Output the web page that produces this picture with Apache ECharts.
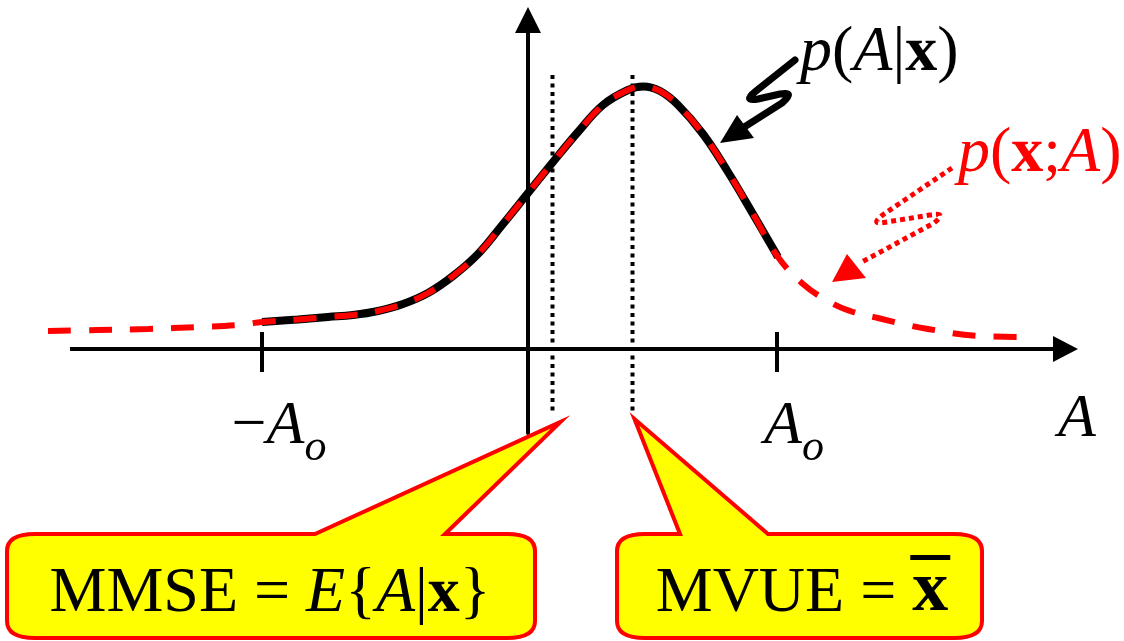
<!DOCTYPE html>
<html>
<head>
<meta charset="utf-8">
<script src="https://cdn.jsdelivr.net/npm/echarts@6/dist/echarts.min.js"></script>
<style>
  html, body { margin: 0; padding: 0; background: #fff; }
  #chart { width: 1124px; height: 641px; }
</style>
</head>
<body>
<div id="chart"></div>
<script>
// A axis (origin at the vertical axis); density height above the A axis
const curveX = [-4.8, -4.3, -3.8, -3.3, -2.9, -2.66, -2.3, -2.0, -1.75, -1.5, -1.25, -1.0, -0.75, -0.5, -0.25, 0, 0.25, 0.5, 0.75, 1.0, 1.15, 1.32, 1.5, 1.75, 2.0, 2.25, 2.5, 2.75, 3.0, 3.25, 3.5, 3.75, 4.0, 4.5, 5.0];
const curveY = [0.18, 0.19, 0.20, 0.22, 0.24, 0.27, 0.295, 0.32, 0.34, 0.38, 0.45, 0.56, 0.73, 0.95, 1.25, 1.56, 1.87, 2.17, 2.44, 2.59, 2.625, 2.58, 2.44, 2.15, 1.77, 1.35, 0.92, 0.65, 0.48, 0.37, 0.31, 0.25, 0.20, 0.13, 0.12];
const tickValues = [-2.66, 2.49]; // -Ao, Ao
const tickNames = ['\u2212A', 'A'];
const posteriorRange = [-2.66, 2.5]; // p(A|x) lives on [-Ao, Ao]
const mmse = 0.245;
const mvue = 1.045;
const estimatorTop = 2.74;
const estimatorBottom = -0.63;
const axisStart = -4.58;
const axisEnd = 5.5;

const X_MIN = -4.88, X_MAX = 5.52;
const Y_MIN = -0.84, Y_MAX = 3.29;

const serif = "'Liberation Serif', 'Times New Roman', serif";
const RED = '#ff0000';

const pairs = curveX.map((x, i) => [x, curveY[i]]);
const posterior = pairs.filter(p => p[0] >= posteriorRange[0] && p[0] <= posteriorRange[1]);

const chart = echarts.init(document.getElementById('chart'));

// text helpers: lay math out token by token on a baseline
const ctx = document.createElement('canvas').getContext('2d');
const fontOf = (kind, size) =>
  (kind === 'i' ? 'italic ' : kind === 'b' ? 'bold ' : '') + size + 'px ' + serif;
const widthOf = (tokens, size) => tokens.reduce((w, t) => {
  ctx.font = fontOf(t[1], t[2] || size);
  return w + ctx.measureText(t[0]).width;
}, 0);
const mathText = (tokens, x, baseline, size, color, align) => {
  let cx = align === 'center' ? x - widthOf(tokens, size) / 2 : x;
  const els = [];
  const boxes = [];
  tokens.forEach(t => {
    const s = t[2] || size;
    const font = fontOf(t[1], s);
    ctx.font = font;
    const w = ctx.measureText(t[0]).width;
    els.push({
      type: 'text',
      style: { x: cx, y: baseline - 0.28 * s + (t[3] || 0), text: t[0], font, fill: color, align: 'left', verticalAlign: 'middle' },
    });
    boxes.push([cx, w]);
    cx += w;
  });
  return { els, boxes };
};

const estimatorLine = (name, x) => ({
  name,
  type: 'line',
  data: [[x, estimatorTop], [x, estimatorBottom]],
  showSymbol: false,
  z: 1,
  lineStyle: { color: '#000', width: 4, type: [4, 4.5], cap: 'butt' },
});

const tickLine = (x) => ({
  type: 'line',
  data: [[x, 0.17], [x, -0.23]],
  showSymbol: false,
  lineStyle: { color: '#000', width: 4 },
});

// callout box with a pointer coming out of its top edge
const calloutPath = (x0, y0, x1, y1, bl, br, tx, ty) => {
  const rx = 28, ry = 17;
  return `M${x0 + rx} ${y0} L${bl} ${y0} L${tx} ${ty} L${br} ${y0} L${x1 - rx} ${y0}` +
    ` Q${x1} ${y0} ${x1} ${y0 + ry} L${x1} ${y1 - ry} Q${x1} ${y1} ${x1 - rx} ${y1}` +
    ` L${x0 + rx} ${y1} Q${x0} ${y1} ${x0} ${y1 - ry} L${x0} ${y0 + ry} Q${x0} ${y0} ${x0 + rx} ${y0} Z`;
};

const renderAnnotations = (params, api) => {
  const children = [];
  // tick labels -Ao, Ao
  tickValues.forEach((v, i) => {
    const px = api.coord([v, 0])[0];
    const toks = [[tickNames[i].replace('A', ''), 'n'], ['A', 'i'], ['o', 'i', 44, 17]].filter(t => t[0]);
    children.push(...mathText(toks, px + 17, 444, 62, '#000', 'center').els);
  });
  // axis name
  children.push(...mathText([['A', 'i']], 1058, 437, 62, '#000').els);

  // p(A|x) label and its arrow
  children.push(...mathText([['p', 'i'], ['(', 'n'], ['A', 'i'], ['|', 'n'], ['x', 'b'], [')', 'n']], 800, 71, 64, '#000').els);
  children.push({
    type: 'path', shape: { pathData: 'M795 60 L756 91 Q742 102 758 99 L780 94 Q796 91 782 103 L738 131' },
    style: { fill: 'none', stroke: '#000', lineWidth: 7, lineCap: 'round', lineJoin: 'round' },
  });
  children.push({ type: 'polygon', shape: { points: [[720, 143], [737, 115], [754, 138]] }, style: { fill: '#000' } });

  // p(x;A) label and its dotted arrow
  children.push(...mathText([['p', 'i'], ['(', 'n'], ['x', 'b'], [';', 'n'], ['A', 'i'], [')', 'n']], 958, 172, 64, RED).els);
  children.push({
    type: 'path', shape: { pathData: 'M952 168 L884 214 Q868 226 887 222 L930 215 Q948 212 934 223 L860 263' },
    style: { fill: 'none', stroke: RED, lineWidth: 5, lineDash: [5, 4] },
  });
  children.push({ type: 'polygon', shape: { points: [[832, 282], [847, 254], [866, 278]] }, style: { fill: RED } });

  // callouts pointing at the bottoms of the estimator lines
  const tipA = api.coord([mmse, estimatorBottom]);
  const tipB = api.coord([mvue, estimatorBottom]);
  children.push({
    type: 'path', shape: { pathData: calloutPath(7, 534, 535, 638, 315, 445, tipA[0] + 8, tipA[1] + 10) },
    style: { fill: '#ffff00', stroke: RED, lineWidth: 4, lineJoin: 'miter' },
  });
  children.push(...mathText([['MMSE = ', 'n'], ['E', 'i'], ['{', 'n'], ['A', 'i'], ['|', 'n'], ['x', 'b'], ['}', 'n']], 270, 612, 64, '#000', 'center').els);
  children.push({
    type: 'path', shape: { pathData: calloutPath(617, 534, 982, 638, 680, 768, tipB[0] + 2, tipB[1] + 7) },
    style: { fill: '#ffff00', stroke: RED, lineWidth: 4, lineJoin: 'miter' },
  });
  const mv = mathText([['MVUE = ', 'n'], ['x', 'b', 72]], 802, 612, 64, '#000', 'center');
  children.push(...mv.els);
  const xb = mv.boxes[1];
  children.push({ type: 'rect', shape: { x: xb[0] - 2, y: 555, width: xb[1] + 4, height: 5 }, style: { fill: '#000' } });

  return { type: 'group', children };
};

chart.setOption({
  animation: false,
  grid: { left: 40, right: 44, top: 20, bottom: 208 },
  xAxis: {
    type: 'value',
    min: X_MIN,
    max: X_MAX,
    axisLine: { show: false },
    axisTick: { show: false },
    splitLine: { show: false },
    axisLabel: { show: false },
  },
  yAxis: {
    type: 'value',
    min: Y_MIN,
    max: Y_MAX,
    axisLine: {
      onZero: true,
      symbol: ['none', 'triangle'],
      symbolSize: [26, 26],
      lineStyle: { color: '#000', width: 4 },
    },
    axisTick: { show: false },
    splitLine: { show: false },
    axisLabel: { show: false },
  },
  series: [
    {
      name: 'A axis',
      type: 'line',
      data: [[axisStart, 0], [axisEnd - 0.2, 0]],
      showSymbol: false,
      lineStyle: { color: '#000', width: 4 },
      markPoint: {
        symbol: 'triangle',
        symbolSize: [26, 25],
        symbolRotate: -90,
        itemStyle: { color: '#000' },
        label: { show: false },
        data: [{ coord: [axisEnd - 0.125, 0] }],
      },
    },
    estimatorLine('MMSE', mmse),
    estimatorLine('MVUE', mvue),
    ...tickValues.map(tickLine),
    {
      name: 'p(A|x)',
      type: 'line',
      data: posterior,
      smooth: 0.4,
      showSymbol: false,
      z: 3,
      lineStyle: { color: '#000', width: 8 },
    },
    {
      name: 'p(x;A)',
      type: 'line',
      data: pairs,
      smooth: 0.4,
      showSymbol: false,
      z: 4,
      lineStyle: { color: RED, width: 6, type: [23, 18] },
    },
    {
      type: 'custom',
      coordinateSystem: 'cartesian2d',
      data: [[0, 0]],
      z: 10,
      silent: true,
      renderItem: renderAnnotations,
    },
  ],
});
</script>
</body>
</html>
